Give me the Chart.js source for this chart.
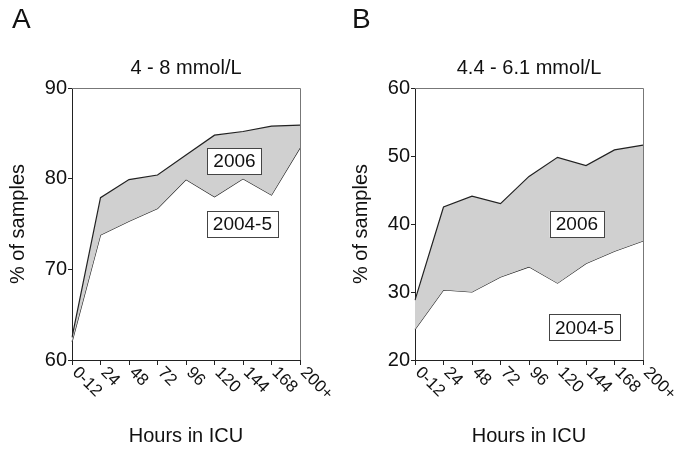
<!DOCTYPE html>
<html>
<head>
<meta charset="utf-8">
<script src="https://cdn.jsdelivr.net/npm/chart.js@4"></script>
<style>
  html, body { margin: 0; padding: 0; background: #fff; }
  body { width: 685px; height: 454px; position: relative; overflow: hidden; }
  .panel { position: absolute; top: 0; width: 342px; height: 454px; }
</style>
</head>
<body>
<div class="panel" style="left:0"><canvas id="chart-a" width="342" height="454"></canvas></div>
<div class="panel" style="left:343px"><canvas id="chart-b" width="342" height="454"></canvas></div>
<script>
// categories (hours in ICU)
const hours = ['0-12', '24', '48', '72', '96', '120', '144', '168', '200+'];

// panel A: 4 - 8 mmol/L
const rangeA2006 = [62.5, 77.9, 79.9, 80.4, 82.6, 84.8, 85.2, 85.8, 85.9];
const rangeA2004 = [62.0, 73.8, 75.3, 76.7, 79.9, 78.0, 80.0, 78.2, 83.4];

// panel B: 4.4 - 6.1 mmol/L
const rangeB2006 = [28.8, 42.5, 44.1, 43.0, 47.0, 49.8, 48.6, 50.9, 51.6];
const rangeB2004 = [24.5, 30.3, 30.0, 32.2, 33.7, 31.3, 34.2, 36.0, 37.5];

const FONT = '"Liberation Sans", Arial, sans-serif';
Chart.defaults.font.family = FONT;
Chart.defaults.color = '#111';

// draws panel letter, title, rotated hour labels, frame and the year boxes
const extrasPlugin = {
    id: 'extras',
    afterDraw(chart, args, opts) {
        const ctx = chart.ctx;
        const area = chart.chartArea;
        const x = chart.scales.x;
        const y = chart.scales.y;
        ctx.save();

        // top / right frame
        ctx.strokeStyle = '#777';
        ctx.lineWidth = 1;
        ctx.beginPath();
        ctx.moveTo(area.left, area.top + 0.5);
        ctx.lineTo(area.right + 0.5, area.top + 0.5);
        ctx.lineTo(area.right + 0.5, area.bottom);
        ctx.stroke();

        // panel letter
        ctx.fillStyle = '#111';
        ctx.font = '28px ' + FONT;
        ctx.textAlign = 'left';
        ctx.textBaseline = 'alphabetic';
        ctx.fillText(opts.letter, opts.letterX, 28);

        // panel title
        ctx.font = '20px ' + FONT;
        ctx.textAlign = 'center';
        ctx.fillText(opts.title, (area.left + area.right) / 2, 74);

        // rotated x labels
        ctx.font = '17px ' + FONT;
        ctx.textAlign = 'left';
        ctx.textBaseline = 'middle';
        hours.forEach((h, i) => {
            const px = x.getPixelForValue(i);
            ctx.save();
            ctx.translate(px + 3, area.bottom + 10);
            ctx.rotate(Math.PI / 4);
            ctx.fillText(h, 0, 0);
            ctx.restore();
        });

        // year boxes
        ctx.font = '19px ' + FONT;
        ctx.textAlign = 'center';
        ctx.textBaseline = 'middle';
        opts.boxes.forEach(b => {
            const cx = x.getPixelForValue(b.at);
            const cy = y.getPixelForValue(b.value);
            const w = ctx.measureText(b.text).width + 12;
            const hgt = 26;
            ctx.fillStyle = '#fff';
            ctx.fillRect(cx - w / 2, cy - hgt / 2, w, hgt);
            ctx.strokeStyle = '#444';
            ctx.strokeRect(Math.round(cx - w / 2) + 0.5, Math.round(cy - hgt / 2) + 0.5, Math.round(w), hgt);
            ctx.fillStyle = '#111';
            ctx.fillText(b.text, cx, cy + 1);
        });
        ctx.restore();
    }
};

function makePanel(canvasId, upper, lower, yMin, yMax, extras) {
    return new Chart(document.getElementById(canvasId), {
        type: 'line',
        data: {
            labels: hours,
            datasets: [
                {
                    label: '2006',
                    data: upper,
                    borderColor: '#222',
                    borderWidth: 1.2,
                    backgroundColor: '#d0d0d0',
                    fill: '+1',
                    pointRadius: 0,
                    tension: 0
                },
                {
                    label: '2004-5',
                    data: lower,
                    borderColor: '#222',
                    borderWidth: 1.2,
                    fill: false,
                    pointRadius: 0,
                    tension: 0
                }
            ]
        },
        options: {
            responsive: false,
            animation: false,
            layout: { padding: { top: 88, right: 42, left: 0, bottom: 0 } },
            plugins: {
                legend: { display: false },
                tooltip: { enabled: false },
                extras: extras
            },
            scales: {
                x: {
                    offset: false,
                    ticks: { display: false },
                    grid: { display: true, drawOnChartArea: false, tickLength: 5, color: '#222' },
                    border: { color: '#222', width: 1 },
                    title: {
                        display: true,
                        text: 'Hours in ICU',
                        font: { size: 20 },
                        padding: { top: 0, bottom: 6 }
                    },
                    afterFit: s => { s.height = 94; }
                },
                y: {
                    min: yMin,
                    max: yMax,
                    ticks: { stepSize: 10, font: { size: 20 }, padding: 1, color: '#111' },
                    grid: { display: true, drawOnChartArea: false, tickLength: 4, color: '#222' },
                    border: { color: '#222', width: 1 },
                    title: {
                        display: true,
                        text: '% of samples',
                        font: { size: 20 },
                        padding: { top: 6, bottom: 0 }
                    },
                    afterFit: s => { s.width = 72; }
                }
            }
        },
        plugins: [extrasPlugin]
    });
}

makePanel('chart-a', rangeA2006, rangeA2004, 60, 90, {
    letter: 'A', letterX: 12, title: '4 - 8 mmol/L',
    boxes: [
        { text: '2006', at: 5.7, value: 81.95 },
        { text: '2004-5', at: 5.98, value: 75.0 }
    ]
});

makePanel('chart-b', rangeB2006, rangeB2004, 20, 60, {
    letter: 'B', letterX: 9, title: '4.4 - 6.1 mmol/L',
    boxes: [
        { text: '2006', at: 5.68, value: 40.0 },
        { text: '2004-5', at: 5.95, value: 24.8 }
    ]
});
</script>
</body>
</html>
